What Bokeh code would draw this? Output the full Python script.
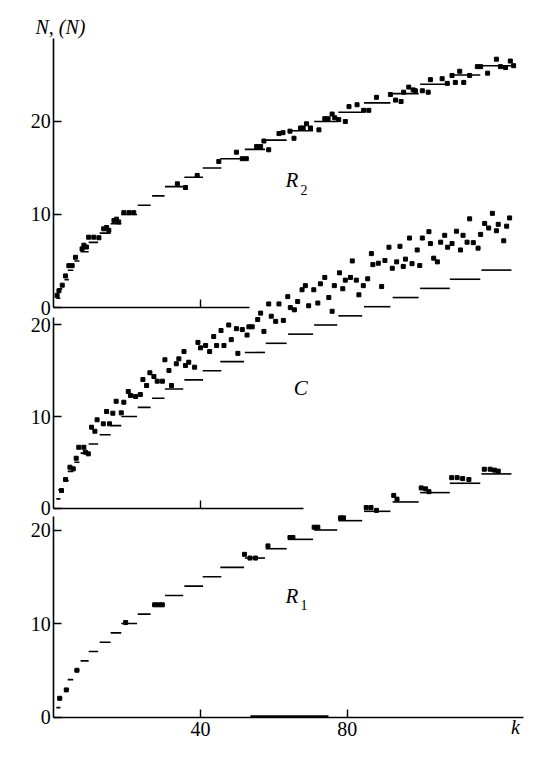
from bokeh.plotting import figure
from bokeh.models import Range1d, LinearAxis, FixedTicker, Label
from bokeh.embed import file_html
from bokeh.resources import INLINE

# ---- shared staircase: integer N levels and the k range of each level ----
step_n = list(range(1, 27))
step_start = [0.7, 1.2, 2.9, 3.8, 5.6, 7.3, 9.5, 12.5, 15.5, 18.4, 22.9, 26.8, 30.3,
              35.6, 40.6, 45.4, 52.1, 57.8, 63.9, 71.0, 77.6, 84.6, 92.4, 99.9, 108.0, 116.6]
step_end = [1.8, 2.3, 4.1, 5.3, 7.0, 9.5, 12.1, 15.5, 18.4, 22.7, 26.4, 30.2, 35.3,
            40.7, 45.7, 51.9, 57.6, 63.5, 70.7, 77.3, 84.1, 91.8, 99.5, 108.0, 116.3, 124.8]

# ---- R2 mean values <N> ----
r2_k = [0.9, 1.4, 2.3, 3.2, 4.1, 5.0, 5.9, 7.7, 8.2, 8.9, 9.5, 10.9, 12.3, 13.6, 14.4, 15.0,
        16.4, 17.1, 17.7, 19.1, 20.5, 21.8, 33.7, 35.9, 39.1, 45.0, 49.8, 51.4, 52.5, 55.3,
        56.4, 57.3, 58.6, 61.4, 62.5, 64.4, 65.5, 67.3, 68.0, 68.9, 70.0, 72.3, 73.9, 74.8,
        75.9, 76.6, 77.7, 79.5, 80.5, 82.7, 84.5, 85.9, 88.0, 91.8, 93.2, 94.7, 95.4, 96.8,
        98.0, 98.6, 100.5, 102.1, 102.7, 105.9, 107.3, 108.6, 109.5, 110.7, 111.8, 113.4,
        115.5, 116.4, 118.3, 120.7, 121.8, 123.2, 124.5, 125.4]
r2_n = [1.3, 1.8, 2.4, 3.4, 4.5, 4.5, 5.4, 6.3, 6.7, 6.5, 7.56, 7.56, 7.5, 8.46, 8.6, 8.3,
        9.35, 9.5, 9.2, 10.2, 10.2, 10.2, 13.3, 12.9, 14.2, 15.7, 16.7, 16.0, 16.0, 17.3,
        17.3, 17.9, 16.96, 18.7, 18.8, 18.96, 18.2, 19.3, 19.3, 19.75, 19.3, 19.1, 20.3, 20.3,
        20.8, 20.4, 20.2, 20.0, 21.6, 21.8, 21.2, 21.2, 22.6, 22.9, 22.3, 22.15, 23.15, 23.7,
        23.4, 23.3, 23.3, 23.15, 24.5, 24.6, 24.1, 24.95, 24.2, 25.4, 24.2, 24.95,
        25.9, 25.9, 25.2, 26.7, 25.9, 25.8, 26.5, 26.0]

# ---- C mean values <N> ----
c_k = [2.1, 3.2, 4.4, 5.3, 6.1, 6.8, 8.2, 8.6, 9.4, 10.3, 11.2, 11.8, 13.5, 14.4, 15.2, 16.1,
       17.0, 18.4, 19.1, 20.3, 20.9, 22.3, 23.6, 24.3, 25.3, 26.2, 27.3, 28.2, 29.6, 30.3,
       31.4, 32.1, 33.4, 34.1, 35.5, 35.9, 36.8, 38.4, 39.3, 40.0, 41.4, 42.5, 43.6, 44.4,
       45.6, 46.4, 47.7, 48.4, 49.8, 50.2, 51.4, 52.7, 53.2, 54.1, 55.6, 56.4, 57.3, 58.6,
       59.3, 60.5, 61.4, 62.6, 63.8, 64.5, 65.6, 66.5, 67.7, 68.6, 69.5, 70.9, 72.0, 72.7,
       73.9, 75.0, 75.9, 76.5, 77.9, 78.8, 79.5, 80.9, 81.4, 82.5, 83.2, 84.4, 85.6, 86.6,
       87.0, 88.5, 89.4, 90.3, 91.4, 92.3, 93.5, 94.4, 95.3, 95.9, 97.0, 97.7, 99.1, 99.8,
       100.5, 102.3, 102.7, 103.6, 104.6, 105.5, 106.6, 107.4, 108.6, 109.8, 110.9, 111.6,
       112.7, 113.4, 114.4, 115.7, 116.4, 117.5, 118.6, 119.6, 120.7, 121.2, 122.7, 123.5, 124.3]
c_n = [1.91, 3.11, 4.46, 4.28, 5.44, 6.64, 6.64, 6.1, 5.92, 8.83, 8.39, 9.64, 9.2, 10.55, 9.2, 10.36,
       11.67, 10.4, 11.56, 12.73, 12.3, 12.19, 12.4, 14.04, 13.39, 14.78, 14.37, 13.86, 13.86, 16.2,
       15.03, 13.39, 15.76, 16.3, 17.1, 15.57, 15.93, 15.39, 18.1, 17.5, 17.76, 17.1, 18.74, 17.76,
       19.4, 17.76, 20.0, 18.4, 19.6, 16.9, 19.5, 18.9, 19.8, 19.8, 20.6, 21.3, 19.3, 22.3,
       20.96, 20.4, 22.3, 20.5, 23.1, 21.9, 21.66, 22.57, 23.85, 24.3, 22.1, 23.85, 22.4, 24.5,
       25.2, 23.0, 21.5, 24.3, 25.7, 23.96, 24.9, 25.2, 27.0, 24.9, 23.3, 24.3, 25.05, 27.8,
       26.6, 26.75, 24.2, 27.05, 28.5, 26.2, 26.9, 28.6, 26.4, 27.2, 29.5, 26.7, 28.2, 26.5,
       29.5, 30.2, 28.9, 27.3, 26.9, 29.05, 29.8, 28.5, 28.9, 30.25, 28.2, 29.8,
       29.05, 31.6, 29.0, 28.4, 29.9, 31.1, 30.6, 32.2, 30.3, 31.0, 29.2, 30.8, 31.7]

# ---- R1 mean values <N> ----
r1_k = [1.6, 3.4, 6.3, 19.6, 27.5, 28.6, 29.6, 52.0, 53.5, 55.0, 58.4, 64.4, 65.2, 71.0, 72.0,
        78.2, 79.0, 85.2, 86.5, 88.0, 92.7, 93.6, 100.2, 101.4, 102.3, 108.5, 110.0, 111.5,
        113.2, 117.4, 119.0, 120.2, 121.2]
r1_n = [2.0, 2.9, 5.0, 10.1, 12.0, 12.0, 12.0, 17.4, 17.0, 17.0, 18.3, 19.2, 19.2, 20.3, 20.3,
        21.3, 21.3, 22.4, 22.4, 22.1, 23.7, 23.3, 24.5, 24.4, 24.1, 25.6, 25.6, 25.5,
        25.4, 26.5, 26.5, 26.4, 26.3]
r1_base_k0 = [53.6]
r1_base_k1 = [74.9]
r1_base_n = [0.1]

y_ticks = [0, 10, 20]
x_ticks_bottom = [40, 80]
x_ticks_upper = [40]

SERIF = "Liberation Serif"

p = figure(width=534, height=747, output_backend="svg", toolbar_location=None,
           x_range=Range1d(-14.54, 131.09), y_range=Range1d(-3.26, 76.63),
           x_axis_location=None, y_axis_location=None, min_border=0)
p.extra_y_ranges = {"r2": Range1d(-47.31, 33.01),
                    "c": Range1d(-26.17, 55.46),
                    "r1": Range1d(-3.26, 76.63)}
p.xgrid.visible = False
p.ygrid.visible = False
p.outline_line_color = None
p.background_fill_color = "white"
p.border_fill_color = "white"


def style_axis(ax):
    ax.axis_line_color = "black"
    ax.axis_line_width = 1.6
    ax.major_tick_line_color = "black"
    ax.major_tick_line_width = 1.4
    ax.major_tick_in = 8
    ax.major_tick_out = 0
    ax.minor_tick_line_color = None
    ax.major_label_text_font = SERIF
    ax.major_label_text_font_size = "20px"
    ax.major_label_text_color = "black"


panels = [("r2", 28.95, 53.4, x_ticks_upper, False),
          ("c", 20.8, 68.1, x_ticks_upper, False),
          ("r1", 21.4, 128.2, x_ticks_bottom, True)]

for rn, ytop, xend, xt, show_labels in panels:
    ya = LinearAxis(y_range_name=rn, fixed_location=0, bounds=(0, ytop),
                    ticker=FixedTicker(ticks=y_ticks, minor_ticks=[]))
    style_axis(ya)
    ya.major_label_standoff = 3
    p.add_layout(ya, "left")
    xa = LinearAxis(y_range_name=rn, fixed_location=0, bounds=(0, xend),
                    ticker=FixedTicker(ticks=xt, minor_ticks=[]))
    style_axis(xa)
    xa.major_label_standoff = 5
    if not show_labels:
        xa.major_label_overrides = {t: "" for t in xt}
    p.add_layout(xa, "below")

# staircases
for rn in ["r2", "c", "r1"]:
    p.segment(x0=step_start, x1=step_end, y0=step_n, y1=step_n,
              line_color="black", line_width=1.6, y_range_name=rn)

p.segment(x0=r1_base_k0, x1=r1_base_k1, y0=r1_base_n, y1=r1_base_n,
          line_color="black", line_width=1.6, y_range_name="r1")

# mean values
p.scatter(r2_k, r2_n, marker="square", size=4, color="black", y_range_name="r2")
p.scatter(c_k, c_n, marker="square", size=4, color="black", y_range_name="c")
p.scatter(r1_k, r1_n, marker="square", size=4, color="black", y_range_name="r1")

# texts
def lab(x, y, text, rn, size="21px", style="italic", align="left"):
    p.add_layout(Label(x=x, y=y, text=text, y_range_name=rn, text_font=SERIF,
                       text_font_size=size, text_font_style=style, text_color="black",
                       text_align=align, text_baseline="middle"))

lab(-5.0, 30.2, "N, (N)", "r2", size="20px")
lab(63.2, 13.7, "R", "r2")
lab(67.3, 12.6, "2", "r2", size="14px", style="normal")
lab(65.4, 13.1, "C", "c")
lab(63.2, 12.95, "R", "r1")
lab(67.3, 11.95, "1", "r1", size="14px", style="normal")
lab(125.9, -1.12, "k", "r1", size="20px", align="center")

open("out.html", "w").write(file_html(p, INLINE))
